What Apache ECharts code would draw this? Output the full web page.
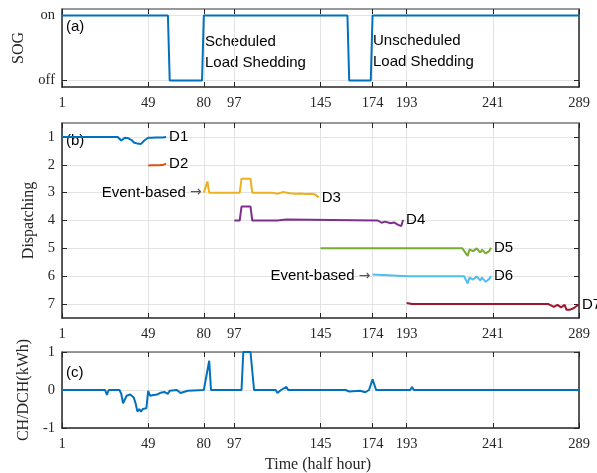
<!DOCTYPE html>
<html>
<head>
<meta charset="utf-8">
<script src="https://cdn.jsdelivr.net/npm/echarts@6/dist/echarts.min.js"></script>
<style>
html, body { margin: 0; padding: 0; background: #fff; }
#chart { width: 597px; height: 473px; }
</style>
</head>
<body>
<div id="chart"></div>
<script>
// tick positions shared by all three panels
var xTicks = [1, 49, 80, 97, 145, 174, 193, 241, 289];
var dispTicks = [1, 2, 3, 4, 5, 6, 7];

// (a) state of grid: 1 = on, 0 = off
var sog = [[1, 1], [60, 1], [61, 0], [79, 0], [80, 1], [160, 1], [161, 0], [173, 0], [174, 1], [289, 1]];

// (b) dispatching levels
var d1 = [[1, 1], [24, 1], [25, 1.04], [26, 1], [32, 1], [33, 1.05], [34, 1.13], [35, 1.06], [36, 1.03], [37, 1.08],
          [38, 1.05], [39, 1.1], [40, 1.12], [41, 1.2], [42, 1.25], [43, 1.24], [44, 1.22], [45, 1.25], [46, 1.2],
          [47, 1.12], [48, 1.06], [49, 1.03], [50, 1.05], [51, 1.03], [52, 1.05], [53, 1.02], [54, 1.04],
          [55, 1.02], [56, 1.04], [57, 1.02], [58, 1.03], [59, 1.0]];
var d2 = [[49, 2.03], [50, 1.99], [51, 2.02], [52, 1.98], [53, 2.02], [54, 1.99], [55, 2.02], [56, 1.98], [57, 2.01], [58, 1.98], [59, 1.96]];
var d3 = [[80, 3], [82, 2.6], [83, 3], [100, 3], [101, 2.5], [106, 2.5], [107, 3], [118, 3], [119, 3.06], [121, 3.04],
          [122, 3.06], [124, 2.98], [125, 3.03], [128, 3.02], [131, 3.04], [134, 3.03], [137, 3.05], [140, 3.04],
          [142, 3.07], [144, 3.17]];
var d4 = [[97, 4], [100, 4], [101, 3.5], [106, 3.5], [107, 4], [119, 4], [120, 4.04], [121, 4], [126, 3.96], [127, 4],
          [177, 4], [179, 4.08], [181, 4.04], [182, 4.0], [184, 4.1], [186, 4.07], [188, 4.15], [190, 4.2], [191, 3.98]];
var d5 = [[145, 5], [224, 5], [227, 5.27], [228, 5.04], [230, 5.1], [232, 5.0], [234, 5.15], [235, 5.05], [237, 5.18], [239, 5.1], [240, 4.98]];
var d6 = [[174, 5.94], [175, 6], [194, 6], [195, 5.96], [196, 6], [225, 6], [227, 6.26], [228, 6.05], [230, 6.12],
          [232, 6.01], [234, 6.15], [235, 6.05], [237, 6.2], [239, 6.1], [240, 5.99]];
var d7 = [[193, 6.96], [194, 6.98], [196, 7], [272, 7], [275, 7.1], [277, 7.03], [279, 7.12], [281, 7.03], [282, 7.2],
          [284, 7.2], [286, 7.15], [287, 7.16], [288, 7.05], [289, 7.04]];

// (c) charge / discharge
var chdch = [[1, 0], [25, 0], [26, -0.13], [27, 0], [33, 0], [34, -0.1], [35, -0.35], [37, -0.15], [38, -0.2], [39, -0.12],
             [41, -0.2], [42, -0.35], [43, -0.57], [44, -0.5], [45, -0.57], [46, -0.5], [47, -0.55], [48, -0.48], [49, -0.02],
             [50, -0.15], [51, -0.1], [52, -0.13], [53, -0.08], [54, -0.12], [55, -0.15], [56, -0.07], [57, -0.1],
             [58, -0.05], [60, -0.1], [61, -0.02], [65, 0], [67, -0.08], [68, -0.03], [71, -0.02], [80, 0], [83, 0.77],
             [84, 0], [101, 0], [102, 1], [106, 1], [108, 0], [120, 0], [121, -0.08], [123, 0], [126, 0.08], [127, 0],
             [159, 0], [161, -0.04], [167, -0.02], [170, -0.06], [172, 0], [174, 0.28], [176, 0], [195, 0],
             [196, 0.08], [197, 0], [289, 0]];

var serif = 'Liberation Serif';
var sans = 'Liberation Sans';
var ink = '#262626';

var grids = [
    {left: 62, right: 18, top: 9, height: 78},
    {left: 62, right: 18, top: 123, height: 195},
    {left: 62, right: 18, top: 352, height: 76}
];

function bottomAxis(g) {
    return {
        type: 'value', gridIndex: g, min: 1, max: 289, position: 'bottom',
        axisLine: {onZero: false, lineStyle: {color: ink, width: 1.5}},
        axisTick: {inside: true, length: 5, customValues: xTicks, lineStyle: {color: ink}},
        axisLabel: {customValues: xTicks, margin: 9, fontFamily: serif, fontSize: 14.5, color: ink},
        splitLine: {show: true, lineStyle: {color: '#e3e3e3', width: 1}}
    };
}
function topAxis(g) {
    return {
        type: 'value', gridIndex: g, min: 1, max: 289, position: 'top',
        axisLine: {onZero: false, lineStyle: {color: '#777', width: 1.5}},
        axisTick: {inside: true, length: 5, customValues: xTicks, lineStyle: {color: ink}},
        axisLabel: {show: false},
        splitLine: {show: false}
    };
}
function rightAxis(g, ticks, min, max, inverse) {
    return {
        type: 'value', gridIndex: g, min: min, max: max, inverse: inverse, position: 'right',
        axisLine: {show: true, onZero: false, lineStyle: {color: ink, width: 1.5}},
        axisTick: {show: true, inside: true, length: 5, customValues: ticks, lineStyle: {color: ink}},
        axisLabel: {show: false},
        splitLine: {show: false}
    };
}
function leftAxis(g, ticks, min, max, inverse, name, gap, fmt) {
    return {
        type: 'value', gridIndex: g, min: min, max: max, inverse: inverse, position: 'left',
        name: name, nameLocation: 'middle', nameGap: gap,
        nameTextStyle: {fontFamily: serif, fontSize: 16, color: ink},
        axisLine: {show: true, onZero: false, lineStyle: {color: ink, width: 1.5}},
        axisTick: {show: true, inside: true, length: 5, customValues: ticks, lineStyle: {color: ink}},
        axisLabel: {customValues: ticks, margin: 7, fontFamily: serif, fontSize: 14.5, color: ink, formatter: fmt},
        splitLine: {show: true, lineStyle: {color: '#e3e3e3', width: 1}}
    };
}

function line(name, data, color, xi, yi, extra) {
    var s = {
        name: name, type: 'line', data: data, xAxisIndex: xi, yAxisIndex: yi,
        symbol: 'none', animation: false,
        lineStyle: {color: color, width: 2},
        itemStyle: {color: color}
    };
    for (var k in extra) s[k] = extra[k];
    return s;
}
function endLab(t) {
    return {endLabel: {show: true, formatter: t, distance: 3, fontFamily: sans, fontSize: 15, color: '#000'}};
}
function eventMark(pt) {
    return {
        symbol: 'circle', symbolSize: 0,
        data: [{coord: pt}],
        label: {
            show: true, position: 'left', distance: 2, formatter: 'Event-based {arr|\u2192}',
            fontFamily: sans, fontSize: 15, color: '#000',
            rich: {arr: {fontFamily: 'DejaVu Sans', fontSize: 14, color: '#555'}}
        }
    };
}

var chart = echarts.init(document.getElementById('chart'), null, {renderer: 'canvas'});

var d3opts = endLab('D3'); d3opts.markPoint = eventMark([80, 3]);
var d6opts = endLab('D6'); d6opts.markPoint = eventMark([174, 6]);

chart.setOption({
    backgroundColor: '#fff',
    animation: false,
    grid: grids,
    xAxis: [bottomAxis(0), topAxis(0), bottomAxis(1), topAxis(1), bottomAxis(2), topAxis(2)],
    yAxis: [
        leftAxis(0, [0, 1], -0.1, 1.1, false, 'SOG', 35, function (v) { return v === 1 ? 'on' : 'off'; }),
        rightAxis(0, [0, 1], -0.1, 1.1, false),
        leftAxis(1, dispTicks, 0.5, 7.5, true, 'Dispatching', 21),
        rightAxis(1, dispTicks, 0.5, 7.5, true),
        leftAxis(2, [-1, 0, 1], -1, 1, false, 'CH/DCH(kWh)', 27),
        rightAxis(2, [-1, 0, 1], -1, 1, false)
    ],
    series: [
        line('SOG', sog, '#0072BD', 0, 0, {}),
        line('D1', d1, '#0072BD', 2, 2, endLab('D1')),
        line('D2', d2, '#D95319', 2, 2, endLab('D2')),
        line('D3', d3, '#EDB120', 2, 2, d3opts),
        line('D4', d4, '#7E2F8E', 2, 2, endLab('D4')),
        line('D5', d5, '#77AC30', 2, 2, endLab('D5')),
        line('D6', d6, '#4DBEEE', 2, 2, d6opts),
        line('D7', d7, '#A2142F', 2, 2, endLab('D7')),
        line('CH/DCH', chdch, '#0072BD', 4, 4, {})
    ],
    graphic: [
        {type: 'text', left: 66, top: 19, style: {text: '(a)', font: '15px "Liberation Sans"', fill: '#000'}},
        {type: 'text', left: 66, top: 133, style: {text: '(b)', font: '15px "Liberation Sans"', fill: '#000'}},
        {type: 'text', left: 66, top: 365, style: {text: '(c)', font: '15px "Liberation Sans"', fill: '#000'}},
        {type: 'text', left: 205, top: 31, style: {text: 'Scheduled\nLoad Shedding', font: '15px "Liberation Sans"', lineHeight: 21, fill: '#000'}},
        {type: 'text', left: 373, top: 30, style: {text: 'Unscheduled\nLoad Shedding', font: '15px "Liberation Sans"', lineHeight: 21, fill: '#000'}},
        {type: 'text', left: 265, top: 457, style: {text: 'Time (half hour)', font: '16px "Liberation Serif"', fill: ink}}
    ]
});
</script>
</body>
</html>
